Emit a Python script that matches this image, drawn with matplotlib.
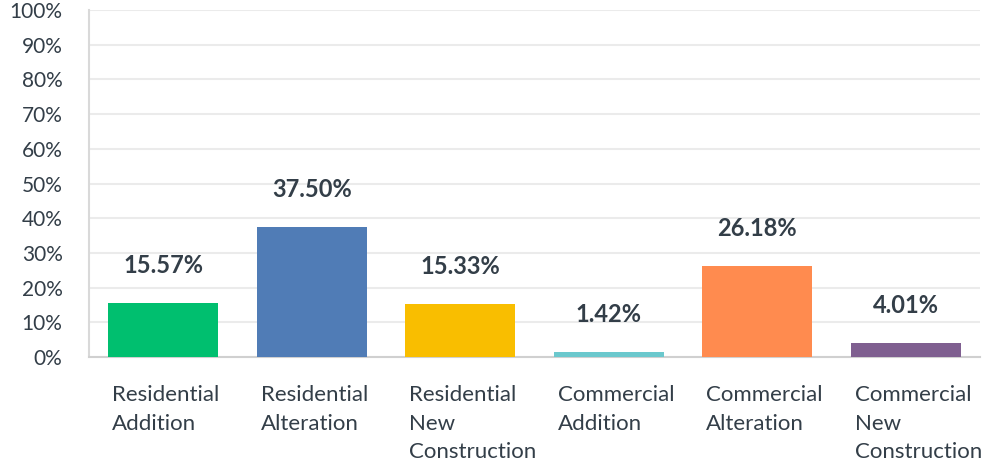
import matplotlib
matplotlib.use("Agg")
import matplotlib.pyplot as plt
from matplotlib.transforms import ScaledTranslation
from matplotlib.ticker import FuncFormatter

# data
categories = ["Residential\nAddition", "Residential\nAlteration", "Residential\nNew\nConstruction",
              "Commercial\nAddition", "Commercial\nAlteration", "Commercial\nNew\nConstruction"]
values = [15.57, 37.50, 15.33, 1.42, 26.18, 4.01]
colors = ["#00bf6f", "#507cb6", "#f9be00", "#6bc8cd", "#ff8b4f", "#7f5f90"]
yticks = [0, 10, 20, 30, 40, 50, 60, 70, 80, 90, 100]

text_col = "#333e48"
plt.rcParams['font.family'] = ['Lato', 'DejaVu Sans']

fig = plt.figure(figsize=(9.84, 4.67), dpi=100)
ax = fig.add_axes([0.0904, 0.2355, 0.9056, 0.743])

x = list(range(len(categories)))
ax.bar(x, values, width=0.74, color=colors, zorder=3)

for xi, v in zip(x, values):
    ax.annotate(f"{v:.2f}%", (xi, v), xytext=(0, 27), textcoords="offset points",
                ha="center", va="center", fontsize=17, fontweight="bold", color=text_col)

ax.set_xlim(-0.5, len(categories) - 0.5)
ax.set_ylim(0, 100)
ax.set_yticks(yticks)
ax.yaxis.set_major_formatter(FuncFormatter(lambda v, p: f"{v:.0f}%"))
ax.grid(axis="y", color="#ebebeb", linewidth=1.5, zorder=0)

ax.set_xticks(x)
ax.set_xticklabels(categories, linespacing=1.55, fontsize=16)
ax.tick_params(axis="both", length=0, labelcolor=text_col)
ax.tick_params(axis="y", pad=19, labelsize=15)
ax.tick_params(axis="x", pad=20)
for lbl in ax.get_xticklabels():
    lbl.set_horizontalalignment("left")
    lbl.set_verticalalignment("top")
    lbl.set_transform(lbl.get_transform() + ScaledTranslation(-0.51, 0, fig.dpi_scale_trans))

for s in ["top", "right"]:
    ax.spines[s].set_visible(False)
ax.spines["left"].set_color("#d9d9d9")
ax.spines["bottom"].set_color("#d0d0d0")
ax.spines["left"].set_linewidth(1.5)
ax.spines["bottom"].set_linewidth(1.5)

fig.savefig("out.png", dpi=100)
